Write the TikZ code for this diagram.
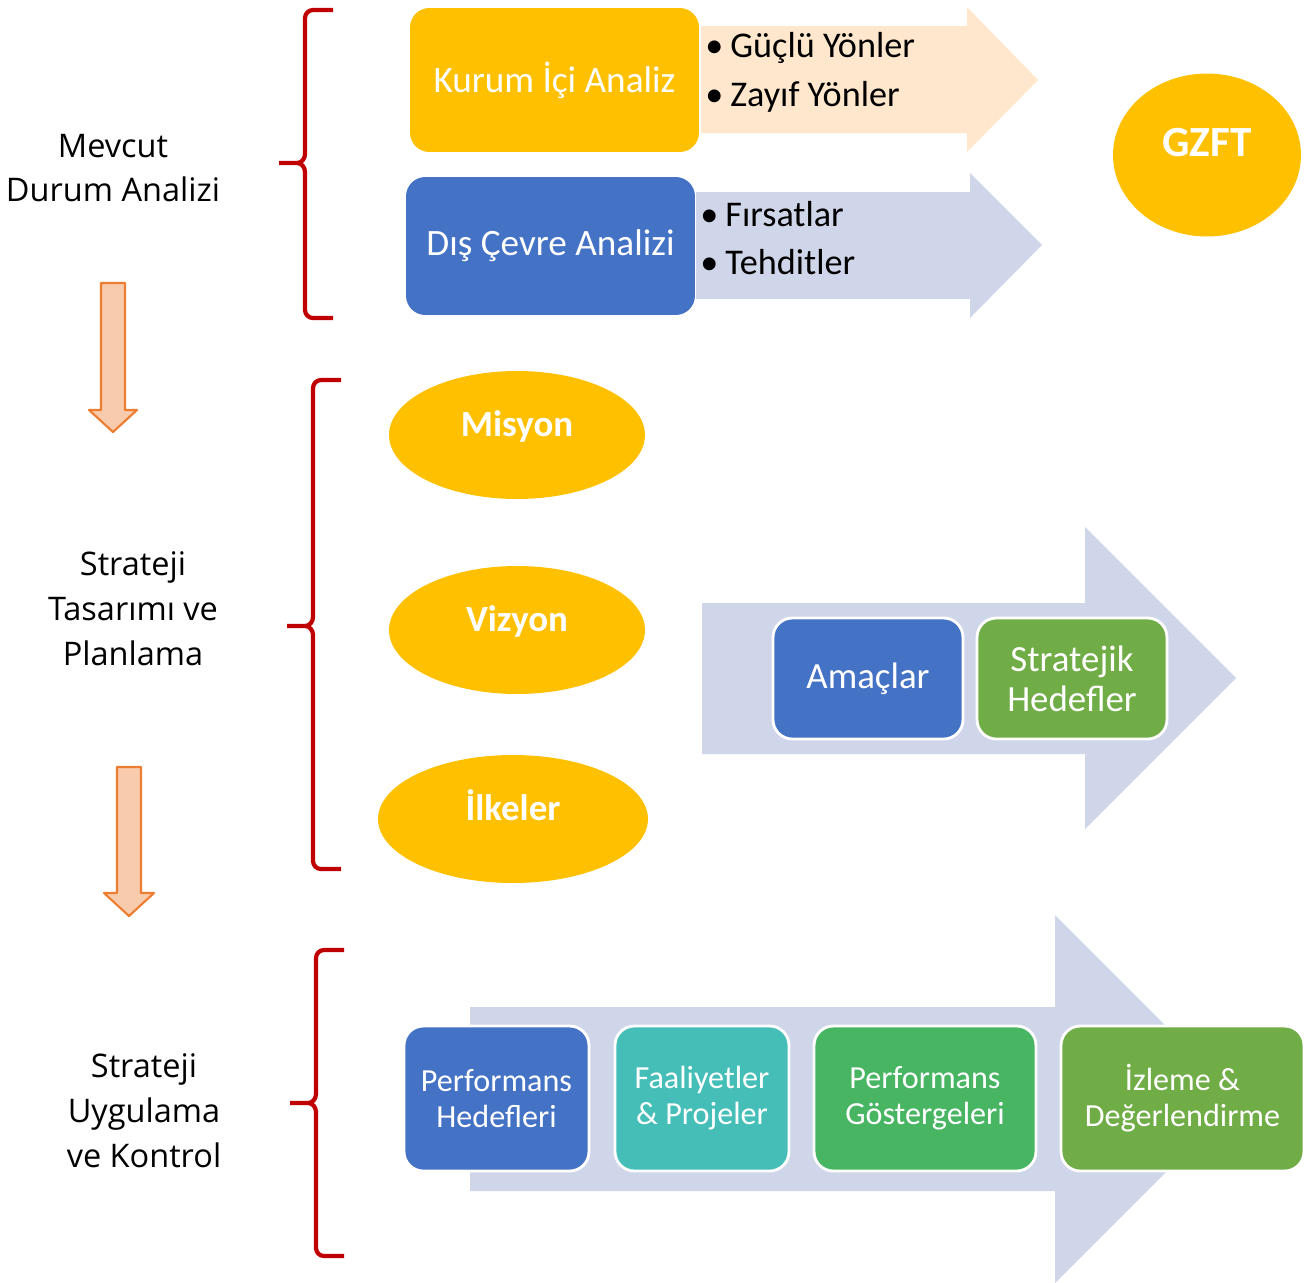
\documentclass[tikz,border=0pt]{standalone}
\usepackage{fontspec}
\setmainfont{Carlito}
\newfontfamily\acikfont{Open Sans}
\usetikzlibrary{shapes.geometric}

\definecolor{sari}{HTML}{FFC000}
\definecolor{mavi}{HTML}{4472C4}
\definecolor{yesil}{HTML}{70AD47}
\definecolor{turkuaz}{HTML}{45BEB8}
\definecolor{cimen}{HTML}{48B563}
\definecolor{seftali}{HTML}{FFE7CD}
\definecolor{acikmavi}{HTML}{D0D6EA}
\definecolor{kirmizi}{HTML}{C00000}
\definecolor{turuncu}{HTML}{ED7D31}
\definecolor{acikturuncu}{HTML}{F8CBAD}

% red curly bracket: vertical x, top y, bottom y, middle y
\newcommand{\parantez}[4]{%
    \draw[kirmizi, line width=2.4pt, line cap=butt]
        (#1+28,#2) -- (#1+8,#2) to[out=180,in=90] (#1,#2+8) -- (#1,#4-9) to[out=-90,in=0] (#1-8,#4) -- (#1-26,#4)
        (#1-8,#4) to[out=0,in=90] (#1,#4+9) -- (#1,#3-8) to[out=-90,in=180] (#1+8,#3) -- (#1+28,#3);
}
\newcommand{\madde}[1]{\textbullet\hspace{4pt}#1}

\begin{document}
\begin{tikzpicture}[line cap=round,line join=round,x=0.02cm,y=-0.02cm,
    kutu/.style={rectangle, rounded corners=11pt, fill=#1, text=white, align=center, inner sep=0pt},
    ickutu/.style={kutu=#1, draw=white, line width=1.6pt},
    oval/.style={ellipse, fill=sari, text=white, inner sep=0pt, text height=0.45cm, text depth=0.4cm,
        font=\fontsize{21}{24}\selectfont\bfseries},
    baslik/.style={align=center, font=\acikfont\fontsize{18.5}{25.5}\selectfont},
    liste/.style={anchor=west, align=left, inner sep=0pt, font=\fontsize{20.6}{27.8}\selectfont},
    asagi/.style={fill=acikturuncu, draw=turuncu, line width=1.2pt}]
    \useasboundingbox (0,0) rectangle (1305,1282);

    % block arrows
    \fill[seftali] (701,26) -- (967,26) -- (967,7) -- (1038,80) -- (967,152) -- (967,133) -- (701,133) -- cycle;
    \fill[acikmavi] (696,192) -- (970,192) -- (970,173) -- (1042,245) -- (970,318) -- (970,299) -- (696,299) -- cycle;
    \fill[acikmavi] (702,603) -- (1085,603) -- (1085,527) -- (1236,678) -- (1085,829) -- (1085,754) -- (702,754) -- cycle;
    \fill[acikmavi] (470,1007) -- (1055,1007) -- (1055,915) -- (1239,1099) -- (1055,1283) -- (1055,1191) -- (470,1191) -- cycle;

    \draw[asagi] (101,283) -- (125,283) -- (125,410) -- (137,410) -- (113,432) -- (89,410) -- (101,410) -- cycle;
    \draw[asagi] (117,767) -- (141,767) -- (141,893) -- (154,893) -- (129,916) -- (104,893) -- (117,893) -- cycle;

    % brackets
    \parantez{305}{10}{318}{163}
    \parantez{313}{380}{869}{626}
    \parantez{316}{950}{1256}{1103}

    % stages
    \draw (113,168) node[baslik] (Mevcut) {Mevcut\\Durum Analizi};
    \draw (133,609) node[baslik] (Tasarim) {Strateji\\Tasarımı ve\\Planlama};
    \draw (144,1111) node[baslik] (Uygulama) {Strateji\\Uygulama\\ve Kontrol};

    % situation analysis
    \draw (554.5,80) node[kutu=sari, minimum width=5.78cm, minimum height=2.88cm,
        font=\fontsize{21.2}{24}\selectfont] (Kurum) {Kurum İçi Analiz};
    \draw (550.5,246) node[kutu=mavi, minimum width=5.78cm, minimum height=2.76cm,
        font=\fontsize{21.2}{24}\selectfont] (Dis) {Dış Çevre Analizi};
    \draw (705,72.5) node[liste] (GZ) {\madde{Güçlü Yönler}\\\madde{Zayıf Yönler}};
    \draw (700,238) node[liste] (FT) {\madde{Fırsatlar}\\\madde{Tehditler}};
    \draw (1207,155) node[oval, minimum width=3.76cm, minimum height=3.26cm,
        font=\fontsize{24.5}{28}\selectfont\bfseries] (GZFT) {GZFT};

    % design and planning
    \draw (517,435) node[oval, minimum width=5.12cm, minimum height=2.56cm] (Misyon) {Misyon};
    \draw (517,630) node[oval, minimum width=5.12cm, minimum height=2.56cm] (Vizyon) {Vizyon};
    \draw (513,819) node[oval, minimum width=5.4cm, minimum height=2.56cm] (Ilkeler) {İlkeler};
    \draw (868,678.5) node[ickutu=mavi, minimum width=3.8cm, minimum height=2.42cm,
        font=\fontsize{21}{22.7}\selectfont] (Amac) {Amaçlar};
    \draw (1072,678.5) node[ickutu=yesil, minimum width=3.8cm, minimum height=2.42cm,
        font=\fontsize{21}{22.7}\selectfont] (Hedef) {Stratejik\\Hedefler};

    % implementation and control
    \begin{scope}[every node/.append style={minimum height=2.9cm, font=\fontsize{18.3}{20.5}\selectfont}]
        \draw (496.5,1098.5) node[ickutu=mavi, minimum width=3.7cm] (PH) {Performans\\Hedefleri};
        \draw (702,1098.5) node[ickutu=turkuaz, minimum width=3.48cm] (FP) {Faaliyetler\\\& Projeler};
        \draw (925,1098.5) node[ickutu=cimen, minimum width=4.44cm] (PG) {Performans\\Göstergeleri};
        \draw (1182.5,1098.5) node[ickutu=yesil, minimum width=4.86cm] (ID) {İzleme \&\\Değerlendirme};
    \end{scope}

\end{tikzpicture}
\end{document}
